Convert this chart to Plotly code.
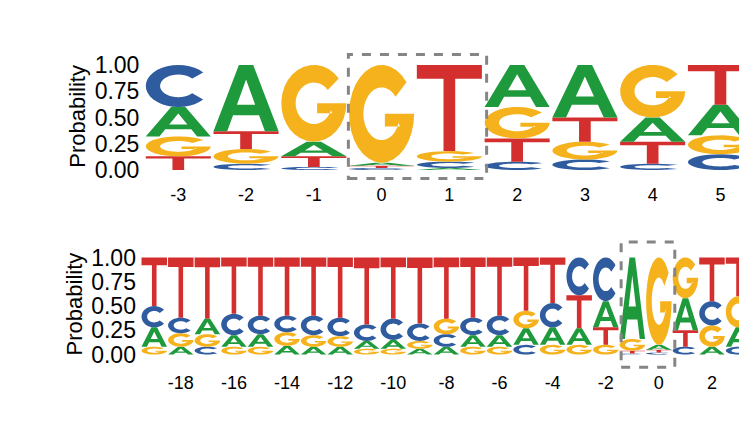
import math
import plotly.graph_objects as go

# top panel (splice donor site), probabilities per position
top_pos = [-3, -2, -1, 0, 1, 2, 3, 4, 5]
top_A = [0.28, 0.63, 0.14, 0.03, 0.02, 0.40, 0.50, 0.23, 0.29]
top_C = [0.40, 0.06, 0.03, 0.02, 0.06, 0.08, 0.10, 0.06, 0.15]
top_G = [0.19, 0.14, 0.73, 0.93, 0.10, 0.30, 0.17, 0.50, 0.18]
top_T = [0.13, 0.17, 0.10, 0.02, 0.82, 0.22, 0.23, 0.21, 0.38]

# bottom panel (splice acceptor site)
bot_pos = list(range(-19, 4))
bot_A = [0.20, 0.08, 0.16, 0.12, 0.13, 0.09, 0.08, 0.08, 0.08, 0.09, 0.06, 0.08, 0.12, 0.12, 0.17, 0.18, 0.17, 0.27, 0.84, 0.05, 0.33, 0.08, 0.20]
bot_C = [0.22, 0.16, 0.08, 0.22, 0.19, 0.17, 0.20, 0.19, 0.17, 0.22, 0.18, 0.13, 0.18, 0.20, 0.10, 0.25, 0.39, 0.45, 0.01, 0.02, 0.08, 0.25, 0.08]
bot_G = [0.08, 0.14, 0.13, 0.08, 0.08, 0.14, 0.12, 0.11, 0.06, 0.06, 0.08, 0.16, 0.08, 0.08, 0.18, 0.10, 0.10, 0.10, 0.12, 0.90, 0.42, 0.22, 0.32]
bot_T = [0.50, 0.62, 0.63, 0.58, 0.60, 0.60, 0.60, 0.62, 0.69, 0.63, 0.68, 0.63, 0.62, 0.60, 0.55, 0.47, 0.34, 0.18, 0.03, 0.03, 0.17, 0.45, 0.40]

top_ticks = top_pos
bot_ticks = list(range(-18, 3, 2))

colors = {"A": "#1e9a3c", "C": "#2f5b9f", "G": "#f5b21c", "T": "#d42f2f"}


def arc(cx, cy, rx, ry, a0, a1, n=28):
    return [(cx + rx * math.cos(math.radians(a0 + (a1 - a0) * i / n)),
             cy + ry * math.sin(math.radians(a0 + (a1 - a0) * i / n))) for i in range(n + 1)]


# glyph outlines in a unit box
glyphs = {
    "T": [[(0, 1), (1, 1), (1, 0.84), (0.59, 0.84), (0.59, 0), (0.41, 0), (0.41, 0.84), (0, 0.84)]],
    "A": [[(0, 0), (0.39, 1), (0.61, 1), (1, 0), (0.79, 0), (0.7, 0.24), (0.3, 0.24), (0.21, 0)],
          [(0.36, 0.4), (0.5, 0.78), (0.64, 0.4)][::-1]],
    "C": [arc(0.5, 0.5, 0.5, 0.5, 40, 320) + arc(0.5, 0.5, 0.28, 0.27, 320, 40)],
    "G": [arc(0.5, 0.5, 0.5, 0.5, 40, 360) + [(0.55, 0.5), (0.55, 0.37), (0.78, 0.37)]
          + arc(0.5, 0.5, 0.28, 0.27, 340, 40)],
}


def letter_path(ch, x, y0, h, w=0.96):
    parts = []
    for poly in glyphs[ch]:
        pts = [(x - w / 2 + w * u, y0 + h * v) for u, v in poly]
        parts.append("M " + " L ".join(f"{px:.4f},{py:.4f}" for px, py in pts) + " Z")
    return " ".join(parts)


def logo_shapes(pos, A, C, G, T, xref, yref):
    shapes = []
    for i, p in enumerate(pos):
        col = sorted([("A", A[i]), ("C", C[i]), ("G", G[i]), ("T", T[i])], key=lambda t: t[1])
        base = 0
        for ch, v in col:
            shapes.append(dict(type="path", path=letter_path(ch, p, base, v), xref=xref, yref=yref,
                               fillcolor=colors[ch], line=dict(width=0), layer="above"))
            base += v
    return shapes


fig = go.Figure()
fig.add_trace(go.Scatter(x=top_pos, y=[0] * len(top_pos), mode="markers", marker=dict(opacity=0),
                         xaxis="x", yaxis="y", hoverinfo="skip"))
fig.add_trace(go.Scatter(x=bot_pos, y=[0] * len(bot_pos), mode="markers", marker=dict(opacity=0),
                         xaxis="x2", yaxis="y2", hoverinfo="skip"))

shapes = logo_shapes(top_pos, top_A, top_C, top_G, top_T, "x", "y")
shapes += logo_shapes(bot_pos, bot_A, bot_C, bot_G, bot_T, "x2", "y2")
box = dict(type="rect", line=dict(color="#858585", width=3, dash="dash"), fillcolor="rgba(0,0,0,0)")
shapes.append(dict(box, xref="x", yref="y", x0=-0.49, x1=1.55, y0=-0.08, y1=1.1))
shapes.append(dict(box, xref="x2", yref="y2", x0=-1.42, x1=0.6, y0=-0.13, y1=1.16))

fam = "Arial, Liberation Sans, sans-serif"
yfont = dict(family=fam, size=23, color="black")
xfont = dict(family=fam, size=18, color="black")
yax = dict(tickvals=[0, 0.25, 0.5, 0.75, 1], ticktext=["0.00", "0.25", "0.50", "0.75", "1.00"],
           showgrid=False, zeroline=False, showline=False, ticks="", tickfont=yfont,
           ticklabelstandoff=4, title=dict(text="Probability", font=dict(family=fam, size=22, color="black"), standoff=2))
xax = dict(showgrid=False, zeroline=False, showline=False, ticks="", tickfont=xfont)

fig.update_layout(
    width=747, height=426, margin=dict(l=0, r=0, t=0, b=0),
    paper_bgcolor="white", plot_bgcolor="white", showlegend=False,
    xaxis=dict(xax, range=[-3.5, 5.51], domain=[0.1826, 1], tickvals=top_ticks,
               ticktext=[str(t) for t in top_ticks], ticklabelstandoff=-1, anchor="y"),
    yaxis=dict(yax, range=[-0.12, 1.14], domain=[0.59, 0.901], anchor="x"),
    xaxis2=dict(xax, range=[-19.5, 3.62], domain=[0.178, 1], tickvals=bot_ticks, ticklabelstandoff=0,
                anchor="y2", ticktext=[str(t) for t in bot_ticks]),
    yaxis2=dict(yax, range=[-0.16, 1.2], domain=[0.15, 0.46], anchor="x2"),
    shapes=shapes,
)

fig.write_html("out.html")
